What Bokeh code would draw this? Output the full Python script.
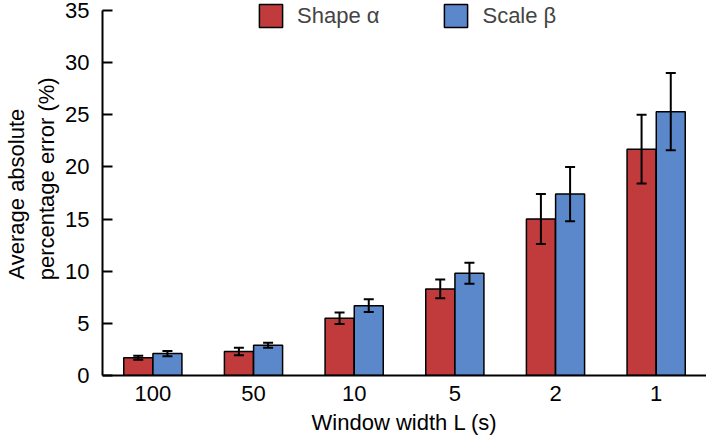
from bokeh.plotting import figure
from bokeh.models import (ColumnDataSource, FactorRange, Range1d, Whisker, Legend,
                          LegendItem, TeeHead, FixedTicker)
from bokeh.transform import dodge
from bokeh.embed import file_html
from bokeh.resources import INLINE

windows = ["100", "50", "10", "5", "2", "1"]
shape_mean = [1.7, 2.3, 5.5, 8.3, 15.0, 21.7]
shape_err = [0.2, 0.35, 0.55, 0.9, 2.4, 3.3]
scale_mean = [2.1, 2.9, 6.7, 9.8, 17.4, 25.3]
scale_err = [0.25, 0.25, 0.6, 1.0, 2.6, 3.7]
y_ticks = [0, 5, 10, 15, 20, 25, 30, 35]
y_max = 35

RED = "#C13B3D"
BLUE = "#5B88CB"
FONT = "Liberation Sans"
FS = "22px"
NB = "\u00a0"

src = ColumnDataSource(dict(
    L=windows,
    shape=shape_mean,
    shape_lo=[m - e for m, e in zip(shape_mean, shape_err)],
    shape_hi=[m + e for m, e in zip(shape_mean, shape_err)],
    scale=scale_mean,
    scale_lo=[m - e for m, e in zip(scale_mean, scale_err)],
    scale_hi=[m + e for m, e in zip(scale_mean, scale_err)],
))

# frame spans the full height above the x axis so that the legend is not clipped;
# the y axis line itself is bounded to 0..35
frame_h = 375
axis_h = 365
p = figure(width=706, height=437, x_range=FactorRange(*windows, range_padding=0),
           y_range=Range1d(0, y_max * frame_h / axis_h), output_backend="svg",
           toolbar_location=None,
           min_border_left=102, min_border_right=0, min_border_top=0, min_border_bottom=62)
p.outline_line_color = None
p.xgrid.grid_line_color = None
p.ygrid.grid_line_color = None

off = 0.145
w = 0.288
r1 = p.vbar(x=dodge("L", -off, range=p.x_range), top="shape", width=w, source=src,
            fill_color=RED, line_color="black", line_width=1.5)
r2 = p.vbar(x=dodge("L", off, range=p.x_range), top="scale", width=w, source=src,
            fill_color=BLUE, line_color="black", line_width=1.5)

for o, lo, hi in [(-off, "shape_lo", "shape_hi"), (off, "scale_lo", "scale_hi")]:
    wk = Whisker(source=src, base=dodge("L", o, range=p.x_range), lower=lo, upper=hi,
                 line_width=2, line_color="black",
                 upper_head=TeeHead(size=10, line_width=2, line_color="black"),
                 lower_head=TeeHead(size=10, line_width=2, line_color="black"))
    wk.level = "overlay"
    p.add_layout(wk)

# axes
p.yaxis.ticker = FixedTicker(ticks=y_ticks)
p.yaxis.bounds = (0, y_max)
p.yaxis.axis_label = (NB * 3 + "Average absolute" + NB * 5 + "\n"
                      + NB * 3 + "percentage error (%)")
p.xaxis.axis_label = "Window width L (s)"
for ax in (p.xaxis[0], p.yaxis[0]):
    ax.axis_line_width = 2
    ax.axis_line_color = "black"
    ax.major_label_text_font = FONT
    ax.major_label_text_font_size = FS
    ax.major_label_text_color = "black"
    ax.axis_label_text_font = FONT
    ax.axis_label_text_font_size = FS
    ax.axis_label_text_font_style = "normal"
    ax.axis_label_text_color = "black"
    ax.minor_tick_line_color = None
p.yaxis.major_tick_in = 10
p.yaxis.major_tick_out = 0
p.yaxis.major_tick_line_width = 2
p.yaxis.major_tick_line_color = "black"
p.yaxis.major_label_standoff = 13
p.yaxis.axis_label_standoff = 3
p.xaxis.major_tick_line_color = None
p.xaxis.major_tick_in = 0
p.xaxis.major_tick_out = 0
p.xaxis.major_label_standoff = 10
p.xaxis.axis_label_standoff = 6

legend = Legend(items=[LegendItem(label="Shape α", renderers=[r1]),
                       LegendItem(label="Scale β", renderers=[r2])],
                orientation="horizontal", location=(154, 345),
                glyph_width=29, glyph_height=29, label_standoff=12, spacing=62,
                padding=0, margin=0, border_line_color=None, background_fill_alpha=0,
                label_text_font=FONT, label_text_font_size=FS)
p.add_layout(legend)

open("out.html", "w").write(file_html(p, INLINE))
